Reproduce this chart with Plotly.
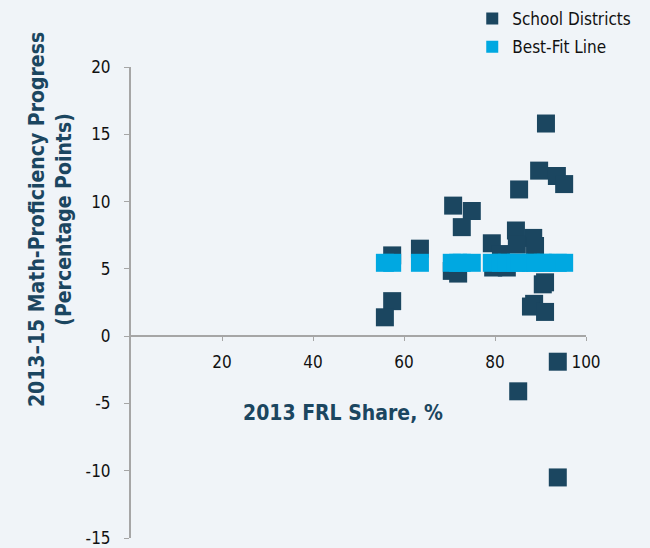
import plotly.graph_objects as go

# 2013 FRL share (%) and 2013-15 math-proficiency change (pp)
frl_share = [91.2, 89.7, 93.6, 95.2, 85.3, 70.8, 74.9, 72.7, 84.6, 88.4,
             79.3, 63.5, 57.4, 84.8, 88.8, 81.3, 70.5, 71.9, 79.6, 82.6,
             90.5, 91.0, 88.6, 87.9, 91.0, 57.4, 55.8, 93.8, 85.1, 93.8]
math_change = [15.8, 12.3, 11.9, 11.3, 10.9, 9.7, 9.3, 8.1, 7.85, 7.3,
               6.9, 6.5, 6.0, 6.8, 6.7, 6.1, 4.85, 4.65, 5.1, 5.1,
               3.85, 4.0, 2.4, 2.2, 1.8, 2.6, 1.4, -1.9, -4.1, -10.5]

# fitted values of the best-fit line at each district
fit_x = [55.8, 57.4, 63.5, 70.5, 71.9, 72.7, 74.9, 79.3, 81.3, 82.6,
         84.6, 85.3, 87.9, 88.8, 90.5, 91.2, 93.8, 95.2]
fit_y = [5.45, 5.45, 5.45, 5.45, 5.45, 5.45, 5.45, 5.45, 5.45, 5.45,
         5.45, 5.45, 5.45, 5.45, 5.45, 5.45, 5.45, 5.45]

x_ticks = [20, 40, 60, 80, 100]
y_ticks = [-15, -10, -5, 0, 5, 10, 15, 20]
y_labels = ["-15", "-10", "-5", "0", "5", "10", "15", "20"]

DARK = "#1b4660"
BLUE = "#00a8e1"
BG = "#f0f4f8"
FONT = "DejaVu Sans Condensed, Liberation Sans Narrow, Roboto, sans-serif"

fig = go.Figure()

fig.add_trace(go.Scatter(
    x=frl_share, y=math_change,
    mode="markers",
    name="School Districts",
    legendgroup="districts",
    marker=dict(symbol="square", size=18, color=DARK),
))

fig.add_trace(go.Scatter(
    x=fit_x, y=fit_y,
    mode="markers",
    name="Best-Fit Line",
    legendgroup="fit",
    marker=dict(symbol="square", size=18, color=BLUE),
))

# axis titles
fig.add_annotation(
    text="<b>2013\u201315 Math-Proficiency Progress<br>(Percentage Points)</b>",
    xref="paper", yref="paper",
    x=-0.178, y=0.675, xanchor="center", yanchor="middle",
    textangle=-90, showarrow=False,
    font=dict(family=FONT, size=21, color=DARK),
)
fig.add_annotation(
    text="<b>2013 FRL Share, %</b>",
    xref="paper", yref="paper",
    x=0.465, y=0.265, xanchor="center", yanchor="middle",
    showarrow=False,
    font=dict(family=FONT, size=21, color=DARK),
)

fig.update_layout(
    width=650, height=548,
    margin=dict(l=131, r=64, t=67, b=10, autoexpand=False),
    paper_bgcolor=BG,
    plot_bgcolor=BG,
    font=dict(family=FONT, size=17, color="#111111"),
    xaxis=dict(
        range=[0, 100],
        tickvals=x_ticks,
        showgrid=False, zeroline=False,
        showline=True, linecolor="#a6a6a6", linewidth=2,
        anchor="free", position=15 / 35,
        ticks="outside", ticklen=4, tickcolor="#a6a6a6",
        ticklabelstandoff=6,
    ),
    yaxis=dict(
        range=[-15, 20],
        tickvals=y_ticks, ticktext=y_labels,
        showgrid=False, zeroline=False,
        showline=True, linecolor="#a6a6a6", linewidth=2,
        ticks="outside", ticklen=5, tickcolor="#a6a6a6",
        ticklabelstandoff=10,
    ),
    legend=dict(
        x=0.75, y=1.14, xanchor="left", yanchor="top",
        bgcolor="rgba(0,0,0,0)",
        font=dict(family=FONT, size=17, color="#111111"),
        itemsizing="constant",
        tracegroupgap=3,
    ),
    showlegend=True,
)

fig.write_html(
    "out.html",
    config={"displayModeBar": False},
    post_script="document.body.style.margin='0';"
                "document.body.style.background='" + BG + "';",
)
